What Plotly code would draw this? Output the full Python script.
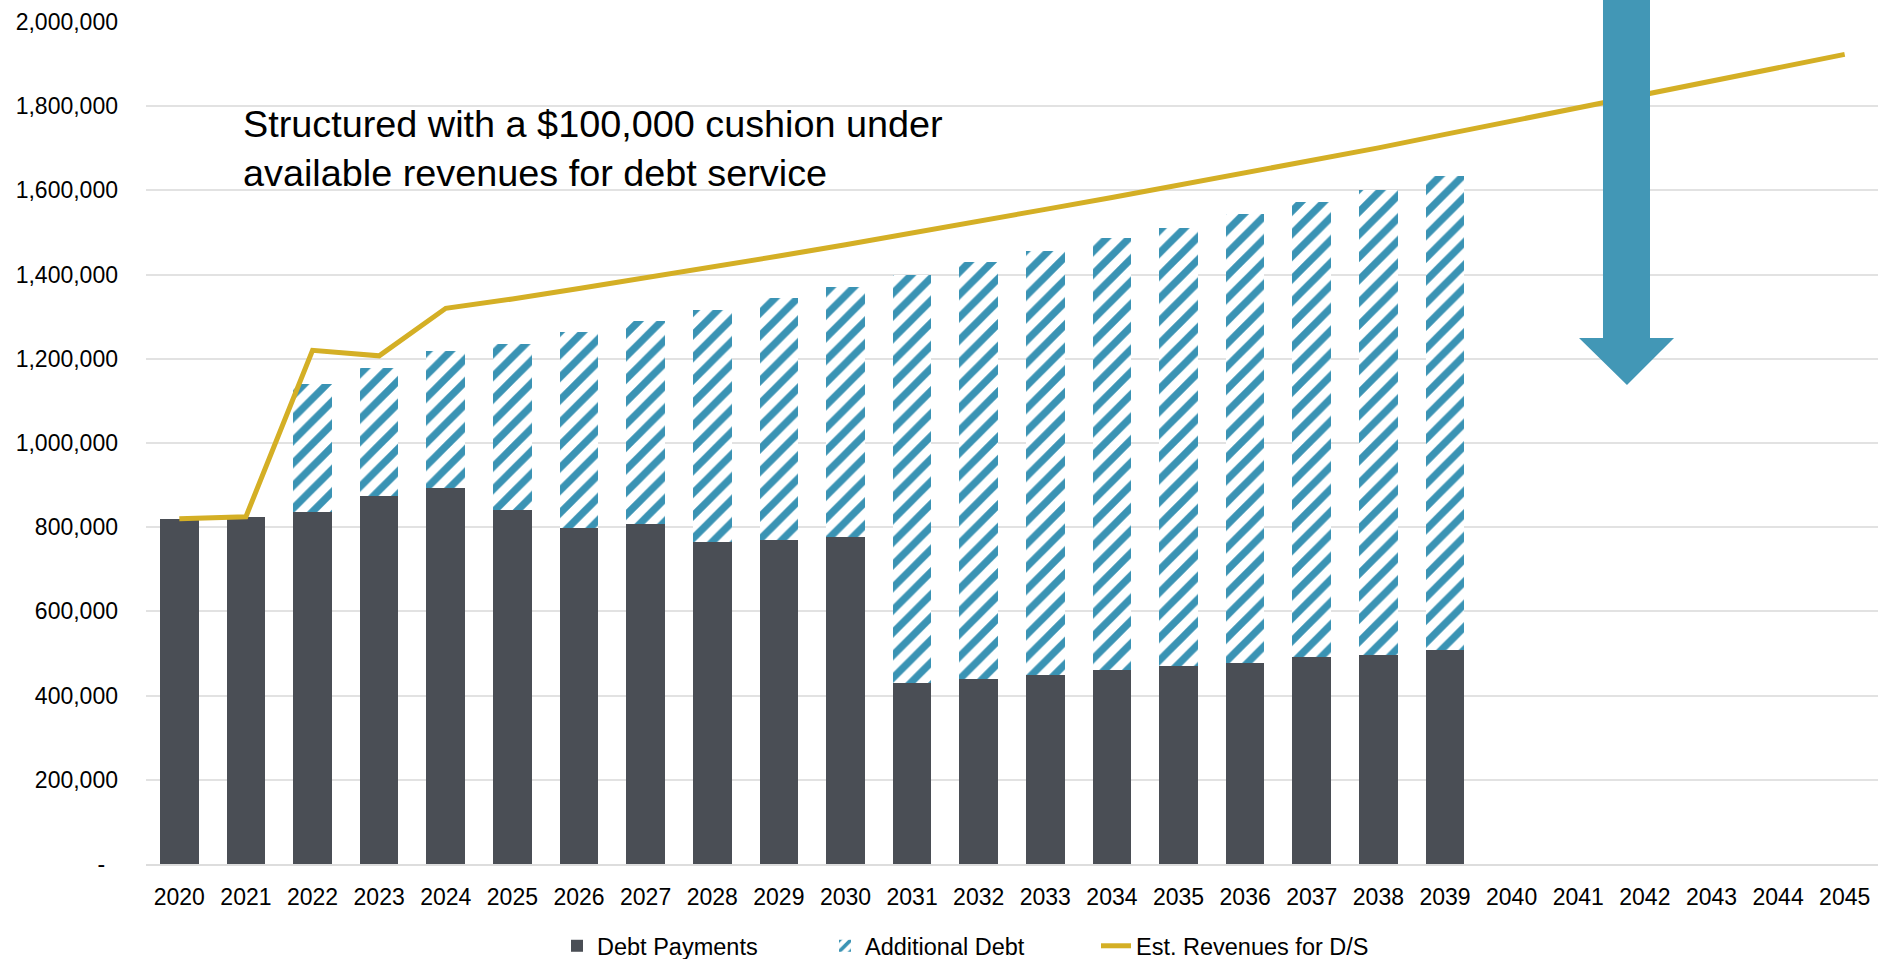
import plotly.graph_objects as go

years = [str(y) for y in range(2020, 2046)]
bar_years = [str(y) for y in range(2020, 2040)]

debt_payments = [820000, 825000, 835000, 873000, 893000, 842000, 799000, 808000, 764000, 770000,
                 776000, 431000, 440000, 448000, 460000, 471000, 477000, 491000, 497000, 509000]
additional_debt = [None, None, 305000, 304000, 325000, 393000, 465000, 482000, 552000, 575000,
                   595000, 969000, 990000, 1009000, 1026000, 1040000, 1068000, 1081000, 1105000, 1126000]
revenues = [820000, 825000, 1220000, 1207000, 1320000, 1342000, 1367000, 1392000, 1418000, 1444000,
            1471000, 1500000, 1527000, 1555000, 1583000, 1612000, 1641000, 1670000, 1701000, 1733000,
            1765000, 1797000, 1829000, 1861000, 1892000, 1923000]

ytick_vals = [0, 200000, 400000, 600000, 800000, 1000000, 1200000, 1400000, 1600000, 1800000, 2000000]
ytick_text = ["-\u00a0\u00a0", "200,000", "400,000", "600,000", "800,000", "1,000,000",
              "1,200,000", "1,400,000", "1,600,000", "1,800,000", "2,000,000"]

DARK = "#4A4E55"
BLUE = "#3A93B4"
GOLD = "#D4AF25"
FONT = "Liberation Sans, Arial, sans-serif"

fig = go.Figure()
fig.add_trace(go.Bar(
    x=bar_years, y=debt_payments, name="Debt Payments", legendwidth=223,
    marker=dict(color=DARK, line=dict(width=0)),
))
fig.add_trace(go.Bar(
    x=bar_years, y=additional_debt, name="Additional Debt", legendwidth=226,
    marker=dict(color="white", line=dict(width=0),
                pattern=dict(shape="/", fgcolor=BLUE, bgcolor="white", fgopacity=1,
                             fillmode="replace", size=16, solidity=0.45)),
))
fig.add_trace(go.Scatter(
    x=years, y=revenues, name="Est. Revenues for D/S", mode="lines", legendwidth=270,
    line=dict(color=GOLD, width=5),
))

# arrow (decoration, paper coordinates)
def px_x(p):
    return (p - 146) / 1732.0

def px_y(p):
    return (864 - p) / 842.0

arrow_pts = [(1603, -5), (1650, -5), (1650, 338), (1674, 338), (1627, 385), (1579, 338), (1603, 338)]
path = "M " + " L ".join(f"{px_x(a):.5f},{px_y(b):.5f}" for a, b in arrow_pts) + " Z"
fig.add_shape(type="path", path=path, xref="paper", yref="paper",
              fillcolor="#4297B6", line=dict(width=0), layer="above")

fig.add_annotation(
    text="Structured with a $100,000 cushion under<br>available revenues for debt service",
    xref="paper", yref="paper", x=px_x(241), y=px_y(149), xanchor="left", yanchor="middle",
    align="left", showarrow=False, font=dict(size=37.8, color="#000000", family=FONT),
)

fig.update_layout(
    width=1898, height=959,
    margin=dict(l=146, r=20, t=22, b=95, autoexpand=False),
    paper_bgcolor="white", plot_bgcolor="white",
    barmode="stack", bargap=0.42,
    font=dict(family=FONT, size=23, color="#000000"),
    showlegend=True,
    legend=dict(orientation="h", traceorder="normal", x=px_x(557), xanchor="left",
                y=px_y(946), yanchor="middle",
                font=dict(size=23.5, family=FONT), bgcolor="rgba(0,0,0,0)"),
)
fig.update_xaxes(type="category", categoryorder="array", categoryarray=years,
                 range=[-0.5, len(years) - 0.5],
                 showgrid=False, showline=True, linecolor="#DDDDDD", linewidth=1.5,
                 ticks="", tickfont=dict(size=23), ticklabelstandoff=12, automargin=False)
fig.update_yaxes(range=[0, 2000000], tickvals=ytick_vals, ticktext=ytick_text,
                 showgrid=True, gridcolor="#E2E2E2", gridwidth=1.5, zeroline=False,
                 showline=False, ticks="", tickfont=dict(size=23), ticklabelstandoff=27,
                 automargin=False)

fig.write_html("out.html")
